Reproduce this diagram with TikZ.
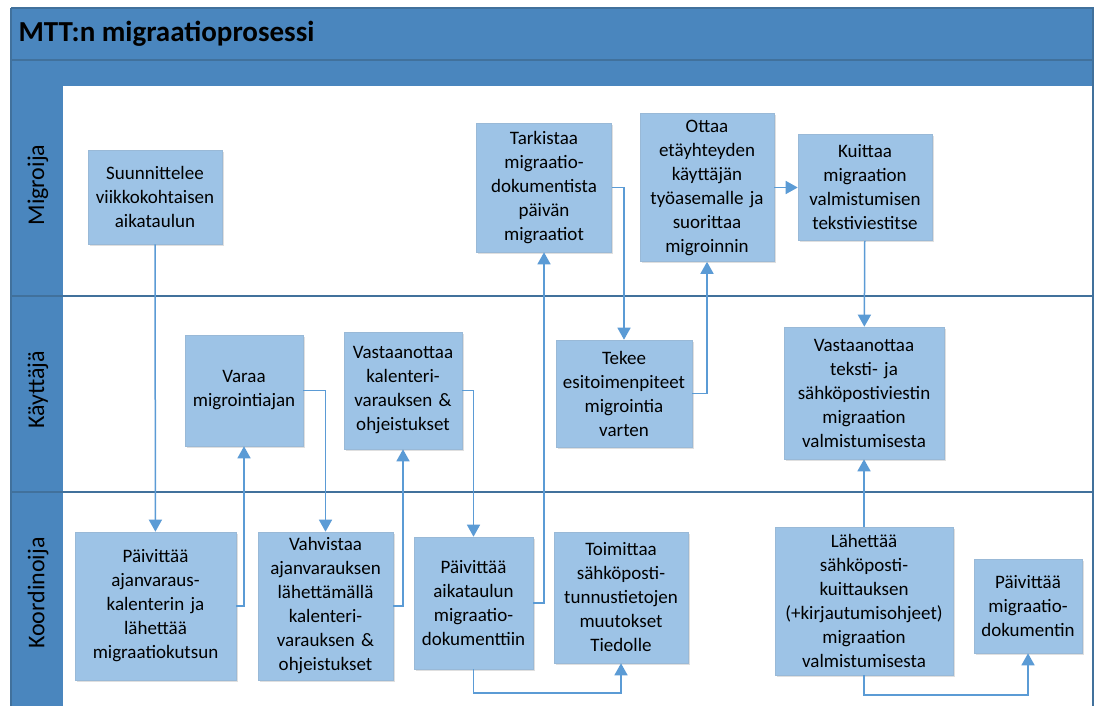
\documentclass[tikz,border=0pt]{standalone}
\usepackage{fontspec}
\setmainfont{Carlito}
\usetikzlibrary{arrows.meta,shadows}
\definecolor{band}{HTML}{4A86BE}
\definecolor{bandline}{HTML}{41719C}
\definecolor{taskfill}{HTML}{9DC3E6}
\definecolor{flow}{HTML}{5B9BD5}
\tikzset{
  task/.style={fill=taskfill, draw=taskfill!85!gray, line width=0.6pt,
    align=center, inner sep=2pt, font=\fontsize{19}{24}\selectfont,
    drop shadow={shadow xshift=1.5pt, shadow yshift=-1.5pt, opacity=0.25}},
  flowline/.style={draw=flow, line width=1.5pt, -{Triangle[width=13pt,length=12pt]}},
  lane/.style={draw=bandline, line width=1.2pt},
  lanelabel/.style={rotate=90, font=\fontsize{24}{26}\selectfont}
}
\begin{document}
\begin{tikzpicture}[x=1pt,y=-1pt]
  \useasboundingbox (0,0) rectangle (1099,706);
  \fill[white] (0,0) rectangle (1099,706);

  \fill[band] (11,8) rectangle (1093,86);
  \fill[band] (11,86) rectangle (63,706);
  \draw[lane] (11,60) -- (1093,60);
  \draw[lane] (11,8) -- (1093,8) -- (1093,706);
  \draw[lane] (11,8) -- (11,706);
  \foreach \y in {296,492}
    \draw[lane] (11,\y) -- (1093,\y);
  \node[anchor=west, font=\fontsize{29}{32}\selectfont\bfseries] (title) at (15,34) {MTT:n migraatioprosessi};

  \node[lanelabel] (migroija) at (38,185) {Migroija};
  \node[lanelabel] (kayttaja) at (38,390) {Käyttäjä};
  \node[lanelabel] (koordinoija) at (38,593) {Koordinoija};

  \node[task, text width=130pt, minimum height=94pt] (suun) at (155,197)
    {Suunnittelee\\viikkokohtaisen\\aikataulun};
  \node[task, text width=131pt, minimum height=129pt] (tark) at (544,187.5)
    {Tarkistaa\\migraatio-\\dokumentista\\päivän\\migraatiot};
  \node[task, text width=130pt, minimum height=148pt] (ottaa) at (707,187.5)
    {Ottaa\\etäyhteyden\\käyttäjän\\työasemalle ja\\suorittaa\\migroinnin};
  \node[task, text width=130pt, minimum height=106pt] (kuit) at (865,187.5)
    {Kuittaa\\migraation\\valmistumisen\\tekstiviestitse};

  \node[task, text width=114pt, minimum height=111pt] (varaa) at (244,390.5)
    {Varaa\\migrointiajan};
  \node[task, text width=114pt, minimum height=117pt] (vastkal) at (403,390.5)
    {Vastaanottaa\\kalenteri-\\varauksen \&\\ohjeistukset};
  \node[task, text width=132pt, minimum height=107pt] (tekee) at (624,393.5)
    {Tekee\\esitoimenpiteet\\migrointia\\varten};
  \node[task, text width=156pt, minimum height=132pt] (vastteks) at (864,393)
    {Vastaanottaa\\teksti- ja\\sähköpostiviestin\\migraation\\valmistumisesta};

  \node[task, text width=157pt, minimum height=148pt] (paiv1) at (155.5,606)
    {Päivittää\\ajanvaraus-\\kalenterin ja\\lähettää\\migraatiokutsun};
  \node[task, text width=131pt, minimum height=148pt] (vahv) at (325.5,606)
    {Vahvistaa\\ajanvarauksen\\lähettämällä\\kalenteri-\\varauksen \&\\ohjeistukset};
  \node[task, text width=115pt, minimum height=132pt] (paiv2) at (473.5,603)
    {Päivittää\\aikataulun\\migraatio-\\dokumenttiin};
  \node[task, text width=130pt, minimum height=131pt] (toim) at (621,597.5)
    {Toimittaa\\sähköposti-\\tunnustietojen\\muutokset\\Tiedolle};
  \node[task, text width=174pt, minimum height=148pt] (lah) at (864,601)
    {Lähettää\\sähköposti-\\kuittauksen\\(+kirjautumisohjeet)\\migraation\\valmistumisesta};
  \node[task, text width=104pt, minimum height=94pt] (paiv3) at (1028,606)
    {Päivittää\\migraatio-\\dokumentin};

  \coordinate (lowA) at (0,693);
  \coordinate (lowB) at (0,695);

  \draw[flowline] (suun) -- (paiv1);
  \draw[flowline] (paiv1.east) -| (varaa.south);
  \draw[flowline] (varaa.east) -| (vahv.north);
  \draw[flowline] (vahv.east) -| (vastkal.south);
  \draw[flowline] (vastkal.east) -| (paiv2.north);
  \draw[flowline] (paiv2.east) -| (tark.south);
  \draw[flowline] (tark.east) -| (tekee.north);
  \draw[flowline] (tekee.east) -| (ottaa.south);
  \draw[flowline] (ottaa) -- (kuit);
  \draw[flowline] (kuit) -- (vastteks);
  \draw[flowline] (lah) -- (vastteks);
  \draw[flowline] (paiv2.south) -- (paiv2.south |- lowA) -| (toim.south);
  \draw[flowline] (lah.south) -- (lah.south |- lowB) -| (paiv3.south);
\end{tikzpicture}
\end{document}
